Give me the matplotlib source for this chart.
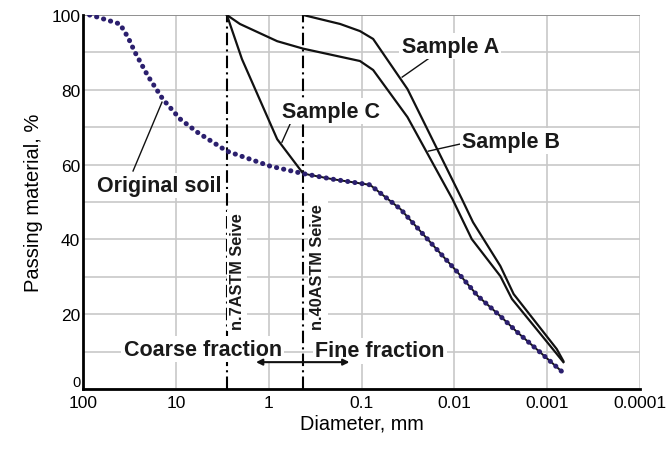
import matplotlib
matplotlib.use("Agg")
import matplotlib.pyplot as plt
from matplotlib.ticker import FixedLocator

plt.rcParams['font.family'] = ['Liberation Sans', 'DejaVu Sans']

# Original soil grading curve
soil_d = [85, 78, 40, 32.7, 27.5, 20, 13.8, 9.0, 5.9, 2.82, 0.966, 0.425,
          0.204, 0.081, 0.038, 0.0195, 0.0093, 0.0056, 0.0032, 0.0021, 0.0012, 0.00069]
soil_p = [100, 99.8, 97.6, 94, 90, 83.7, 77.5, 72.2, 68.7, 63.6, 59.6, 57.6,
          56.1, 54.6, 48.1, 40.1, 31.3, 24.9, 19.5, 15.2, 9.9, 4.6]

# Sample A
a_d = [0.425, 0.17, 0.104, 0.075, 0.032, 0.0083, 0.0063, 0.0032, 0.0023, 0.00079, 0.00067]
a_p = [100, 97.6, 95.7, 93.6, 80.2, 50.8, 44.6, 32.9, 25.4, 10.7, 7.5]

# Sample B
b_d = [2.82, 2.04, 0.81, 0.425, 0.104, 0.075, 0.032, 0.0105, 0.0065, 0.0032, 0.0024, 0.00082, 0.00067]
b_p = [100, 97.6, 93.0, 91.0, 87.7, 85.3, 72.7, 50.8, 40.1, 30.2, 24.1, 9.9, 7.2]

# Sample C
c_d = [2.82, 1.94, 0.81, 0.425]
c_p = [100, 88.2, 66.8, 57.6]

sieve_d = [2.82, 0.425]
sieve_labels = ['n.7ASTM Seive', 'n.40ASTM Seive']

xticks = [100, 10, 1, 0.1, 0.01, 0.001, 0.0001]
xticklabels = ['100', '10', '1', '0.1', '0.01', '0.001', '0.0001']
yticks = [0, 20, 40, 60, 80, 100]
yminor = [10, 30, 50, 70, 90]

fig = plt.figure(figsize=(6.72, 4.52), dpi=100)
ax = fig.add_axes([0.1235, 0.137, 0.829, 0.8276])

ax.set_xscale('log')
ax.set_xlim(100, 0.0001)
ax.set_ylim(0, 100)
ax.set_xticks(xticks)
ax.set_xticklabels(xticklabels)
ax.xaxis.set_minor_locator(FixedLocator([]))
ax.set_yticks(yticks)
ax.yaxis.set_minor_locator(FixedLocator(yminor))
ax.tick_params(axis='both', which='both', length=0, labelsize=12.5)
ax.tick_params(axis='x', pad=4)
ax.tick_params(axis='y', pad=2)
ax.grid(True, which='both', color='#c8c8c8', linewidth=1.2)
ax.set_axisbelow(True)
for s in ['top', 'right']:
    ax.spines[s].set_visible(False)
for s in ['left', 'bottom']:
    ax.spines[s].set_linewidth(2)
ax.axhline(100, color='#8c8c8c', lw=1.3, zorder=1)

# smaller, raised "0" label as in the reference
ylabels = ax.get_yticklabels()
ylabels[0].set_fontsize(10.5)
ylabels[0].set_verticalalignment('bottom')

# sieve lines
for d in sieve_d:
    ax.axvline(d, color='black', lw=1.5, linestyle=(0, (6, 2, 1, 2)), zorder=3)

# samples
ax.plot(a_d, a_p, color='#111111', lw=1.6, zorder=4)
ax.plot(b_d, b_p, color='#111111', lw=1.6, zorder=4)
ax.plot(c_d, c_p, color='#111111', lw=1.6, zorder=4)

# original soil: black line in fine part and dotted navy curve
fine_idx = soil_d.index(0.425)
ax.plot(soil_d[fine_idx:], soil_p[fine_idx:], color='#111111', lw=1.4, zorder=4)
ax.plot(soil_d, soil_p, color='#2b1f6e', lw=3.6, linestyle=(0, (0.05, 1.4)),
        dash_capstyle='round', zorder=5)

bold = dict(fontsize=15.5, fontweight='bold', color='#1a1a1a')
box = dict(facecolor='white', edgecolor='none', pad=1.5)

def lab(x, y, s):
    ax.text(x, y, s, ha='center', va='center', bbox=box, zorder=6, **bold)

def leader(xs, ys):
    ax.plot(xs, ys, color='#111111', lw=1, zorder=4)

lab(0.0111, 91.7, 'Sample A')
leader([0.0174, 0.0365], [89.0, 83.4])
lab(0.00244, 66.3, 'Sample B')
leader([0.0087, 0.0191], [65.5, 63.6])
lab(0.213, 74.3, 'Sample C')
leader([0.575, 0.72], [71.4, 66.0])
lab(15.0, 54.5, 'Original soil')
leader([14.1, 28.9], [76.7, 58.3])

lab(5.15, 10.7, 'Coarse fraction')
lab(0.063, 10.2, 'Fine fraction')
ax.annotate('', xy=(1.37, 7.2), xytext=(0.135, 7.2),
            arrowprops=dict(arrowstyle='<|-|>', color='#111111', lw=1.5,
                            mutation_scale=9, shrinkA=0, shrinkB=0), zorder=6)

ax.text(2.19, 16, sieve_labels[0], rotation=90, ha='center', va='bottom',
        fontsize=11.7, fontweight='bold', color='#1a1a1a', bbox=box, zorder=6)
ax.text(0.295, 16, sieve_labels[1], rotation=90, ha='center', va='bottom',
        fontsize=11.7, fontweight='bold', color='#1a1a1a', bbox=box, zorder=6)

ax.set_xlabel('Diameter, mm', fontsize=14.3, labelpad=3)
ax.set_ylabel('Passing material, %', fontsize=14.5, labelpad=6)

fig.savefig('out.png', dpi=100)
